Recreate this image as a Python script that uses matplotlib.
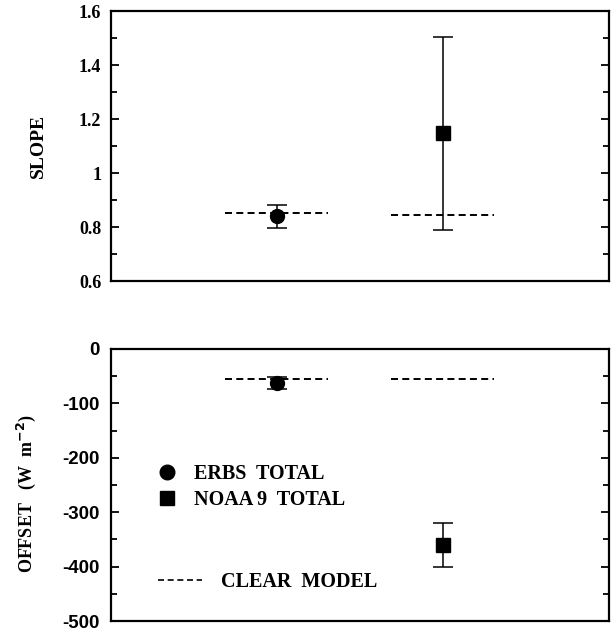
import matplotlib
matplotlib.use("Agg")
import matplotlib.pyplot as plt
from matplotlib.ticker import MultipleLocator
from matplotlib.lines import Line2D

# data
sat_x = [1, 2]
sat_names = ["ERBS  TOTAL", "NOAA 9  TOTAL"]
sat_markers = ["o", "s"]

slope = [0.84, 1.148]
slope_lo = [0.797, 0.789]
slope_hi = [0.883, 1.506]
slope_model = [0.852, 0.845]

offset = [-62.5, -361]
offset_lo = [-73.5, -400]
offset_hi = [-51, -319]
offset_model = [-55, -56]

model_halfwidth = 0.31

serif = "Liberation Serif"
sans = "Liberation Sans"
dash = (0, (3.6, 2.2))

fig = plt.figure(figsize=(6.13, 6.32), dpi=100)
ax1 = fig.add_axes([0.181, 0.555, 0.812, 0.4272])
ax2 = fig.add_axes([0.181, 0.0174, 0.812, 0.4304])


def draw(ax, vals, lo, hi, model):
    for x, v, l, h, m, mk in zip(sat_x, vals, lo, hi, model, sat_markers):
        ax.errorbar([x], [v], yerr=[[v - l], [h - v]], fmt=mk, color="black",
                    ms=10, capsize=7.5, elinewidth=1.1, capthick=1.1)
        ax.plot([x - model_halfwidth, x + model_halfwidth], [m, m], color="black",
                ls=dash, lw=1.4)
    ax.set_xlim(0, 3)
    ax.set_xticks([])
    for side in ax.spines.values():
        side.set_linewidth(1.6)
    ax.tick_params(axis="y", which="both", direction="in", left=True, right=True,
                   width=1.3)
    ax.tick_params(axis="y", which="major", length=6)
    ax.tick_params(axis="y", which="minor", length=4)


draw(ax1, slope, slope_lo, slope_hi, slope_model)
ax1.set_ylim(0.6, 1.6)
ax1.yaxis.set_minor_locator(MultipleLocator(0.1))
ax1.set_yticks([0.6, 0.8, 1.0, 1.2, 1.4, 1.6])
ax1.set_yticklabels(["0.6", "0.8", "1", "1.2", "1.4", "1.6"],
                    fontfamily=serif, fontweight="bold", fontsize=13)
ax1.tick_params(axis="y", pad=7)
ax1.set_ylabel("SLOPE", fontfamily=serif, fontweight="bold", fontsize=14)
ax1.yaxis.set_label_coords(-0.128, 0.5)

draw(ax2, offset, offset_lo, offset_hi, offset_model)
ax2.set_ylim(-500, 0)
ax2.yaxis.set_minor_locator(MultipleLocator(50))
ax2.set_yticks([-500, -400, -300, -200, -100, 0])
ax2.set_yticklabels(["-500", "-400", "-300", "-200", "-100", "0"],
                    fontfamily=sans, fontweight="bold", fontsize=13.5)
ax2.tick_params(axis="y", pad=8)
ax2.set_ylabel("OFFSET   (W  m$^{\\mathbf{-2}}$)", fontfamily=serif,
               fontweight="bold", fontsize=13)
ax2.yaxis.set_label_coords(-0.146, 0.47)

# legend
legend_font = {"family": serif, "weight": "bold", "size": 14.5}
sat_handles = [Line2D([], [], ls="none", marker=mk, color="black", ms=10.5)
               for mk in sat_markers]
leg1 = ax2.legend(sat_handles, sat_names, loc="center left",
                  bbox_to_anchor=(0.088, 0.4925), frameon=False,
                  borderpad=0, borderaxespad=0, handlelength=1.2,
                  handletextpad=0.75, labelspacing=0.3, prop=legend_font)
ax2.add_artist(leg1)
model_handle = Line2D([], [], color="black", ls=dash, lw=1.2)
ax2.legend([model_handle], ["CLEAR  MODEL"], loc="center left",
           bbox_to_anchor=(0.095, 0.143), frameon=False, borderpad=0,
           borderaxespad=0, handlelength=2.15, handletextpad=0.95,
           prop=legend_font)

fig.savefig("out.png", dpi=100)
